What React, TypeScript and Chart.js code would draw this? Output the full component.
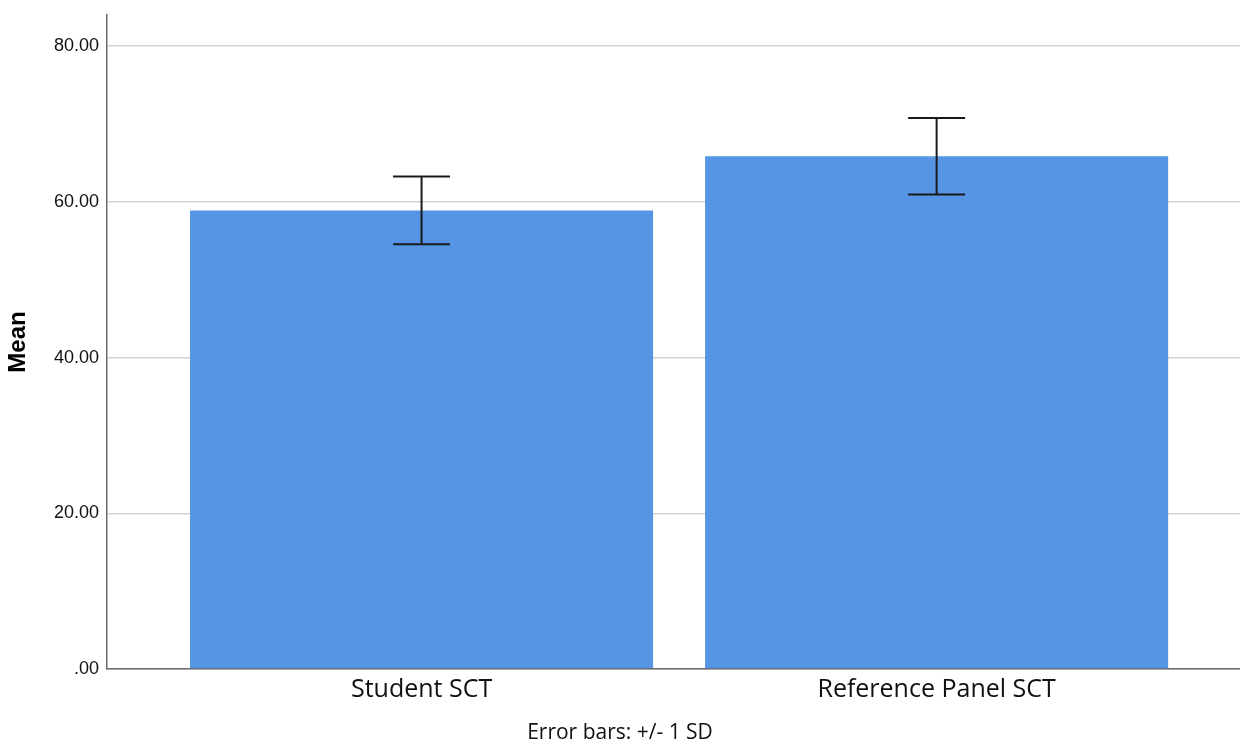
import React, { useEffect, useRef } from "react";
import { Chart, registerables } from "chart.js";

Chart.register(...registerables);

const categories: string[] = ["Student SCT", "Reference Panel SCT"];
const means: number[] = [58.9, 65.85];
const sds: number[] = [4.35, 4.92];
const yTicks: number[] = [0, 20, 40, 60, 80];
const footnote = "Error bars: +/- 1 SD";
const yTitle = "Mean";

const errorBarPlugin = {
  id: "errorBars",
  afterDatasetsDraw(chart: any) {
    const meta = chart.getDatasetMeta(0);
    const yScale = chart.scales.y;
    const ctx = chart.ctx;
    ctx.save();
    ctx.strokeStyle = "#1a1a1a";
    ctx.lineWidth = 2;
    meta.data.forEach((bar: any, i: number) => {
      const x = bar.x;
      const half = (bar.width * 0.123) / 2;
      const top = yScale.getPixelForValue(means[i] + sds[i]);
      const bot = yScale.getPixelForValue(means[i] - sds[i]);
      ctx.beginPath();
      ctx.moveTo(x, top);
      ctx.lineTo(x, bot);
      ctx.moveTo(x - half, top);
      ctx.lineTo(x + half, top);
      ctx.moveTo(x - half, bot);
      ctx.lineTo(x + half, bot);
      ctx.stroke();
    });
    ctx.restore();
  },
};

export default function App() {
  const ref = useRef<HTMLCanvasElement | null>(null);
  useEffect(() => {
    if (!ref.current) return;
    const chart = new Chart(ref.current, {
      type: "bar",
      data: {
        datasets: [
          {
            data: categories.map((_, i) => ({ x: i, y: means[i] })) as any,
            backgroundColor: "#5595e4",
            borderWidth: 0,
            barPercentage: 0.899,
            categoryPercentage: 1,
          },
        ],
      },
      options: {
        animation: false,
        responsive: true,
        maintainAspectRatio: false,
        layout: { padding: { top: 15, left: 0, right: 0, bottom: 0 } },
        plugins: {
          legend: { display: false },
          tooltip: { enabled: false },
          title: {
            display: true,
            text: footnote,
            position: "bottom",
            color: "#111",
            font: { family: "'Open Sans', sans-serif", size: 21, weight: "normal", lineHeight: 1 },
            padding: { top: 4, bottom: 0 },
          },
        },
        scales: {
          x: {
            type: "linear",
            min: -0.6107,
            max: 1.589,
            offset: false,
            grid: { display: false, drawTicks: false },
            border: { display: true, color: "#6a6a6a", width: 1.5 },
            afterBuildTicks: (scale: any) => {
              scale.ticks = categories.map((_, i) => ({ value: i }));
            },
            afterFit: (scale: any) => {
              scale.height = 50;
              scale.paddingLeft = 0;
              scale.paddingRight = 0;
            },
            ticks: {
              padding: 6,
              color: "#111",
              font: { family: "'Open Sans', sans-serif", size: 25 },
              callback: (v: any) => categories[Number(v)] ?? "",
              maxRotation: 0,
              autoSkip: false,
            },
          },
          y: {
            min: 0,
            max: 84,
            grid: { color: "#d2d2d2", lineWidth: 1.5, drawTicks: false },
            border: { display: true, color: "#6a6a6a", width: 1.5 },
            afterBuildTicks: (scale: any) => {
              scale.ticks = yTicks.map((v) => ({ value: v }));
            },
            afterFit: (scale: any) => {
              scale.width = 107;
              scale.paddingTop = 0;
              scale.paddingBottom = 0;
            },
            ticks: {
              padding: 8,
              color: "#111",
              font: { family: "'Liberation Sans', sans-serif", size: 18 },
              callback: (v: any) => (Number(v) === 0 ? ".00" : Number(v).toFixed(2)),
            },
            title: {
              display: true,
              text: yTitle,
              color: "#000",
              font: { family: "'Liberation Sans', sans-serif", size: 24, weight: "bold" },
              padding: { top: 4, bottom: 0 },
            },
          },
        },
      },
      plugins: [errorBarPlugin],
    });
    return () => chart.destroy();
  }, []);
  return (
    <div style={{ position: "fixed", left: 0, top: 0, width: 1240, height: 744, background: "#fff" }}>
      <canvas ref={ref} />
    </div>
  );
}
